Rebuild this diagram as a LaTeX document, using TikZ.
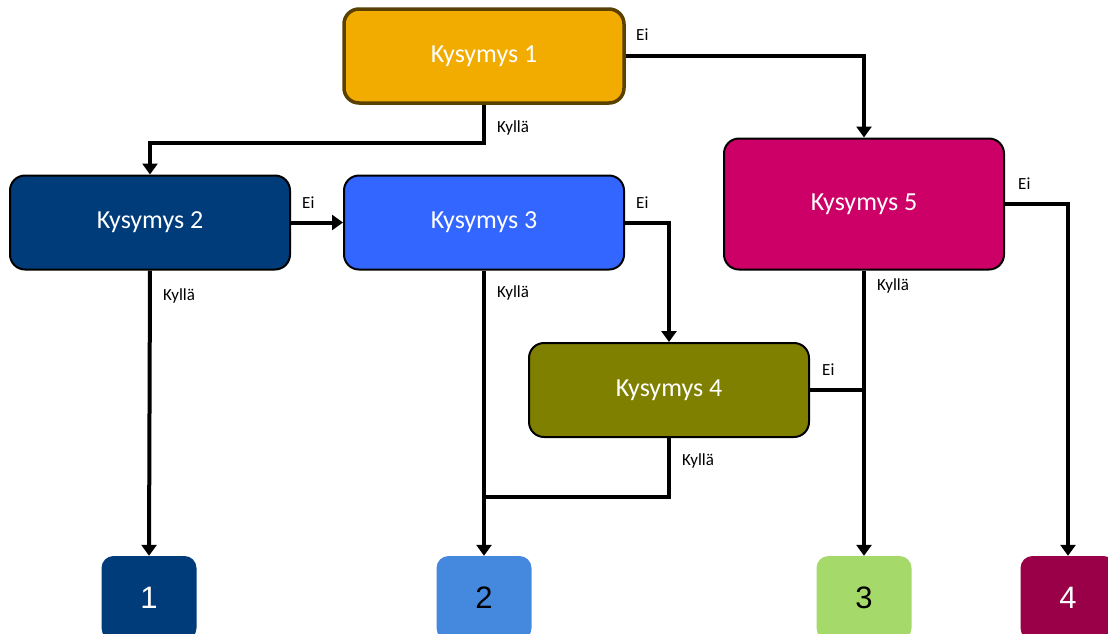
\documentclass[tikz,border=0pt]{standalone}
\usepackage{fontspec}
\setmainfont{Carlito}
\newfontfamily\arialf{Liberation Sans}
\usetikzlibrary{arrows.meta}
\definecolor{cK1}{HTML}{F2AC00}
\definecolor{cK1b}{HTML}{5A4100}
\definecolor{cK2}{HTML}{003B7A}
\definecolor{cK3}{HTML}{3366FF}
\definecolor{cK4}{HTML}{808000}
\definecolor{cK5}{HTML}{CC0066}
\definecolor{cR2}{HTML}{4589DF}
\definecolor{cR3}{HTML}{A5D96A}
\definecolor{cR4}{HTML}{990047}
\begin{document}
\begin{tikzpicture}[x=1pt,y=-1pt,
  qbox/.style={draw=black, line width=2pt, rounded corners=15pt, text=white,
    minimum width=280pt, minimum height=94pt, inner sep=0pt,
    font=\fontsize{26}{30}\selectfont},
  rbox/.style={draw=none, rounded corners=12pt, minimum width=95pt, minimum height=84pt,
    inner sep=0pt, font=\arialf\fontsize{31}{34}\selectfont},
  lbl/.style={font=\fontsize{17}{19}\selectfont, inner sep=0pt, anchor=west},
  con/.style={line width=4pt},
  arr/.style={con, -{Triangle[width=15pt,length=11pt]}}]
\useasboundingbox (0,0) rectangle (1108,633);
\fill[white] (0,0) rectangle (1108,633);
% question boxes
\node[qbox, fill=cK1, draw=cK1b, line width=3.5pt] (k1) at (484,56) {Kysymys 1};
\node[qbox, fill=cK2] (k2) at (150,222.5) {Kysymys 2};
\node[qbox, fill=cK3] (k3) at (484,222.5) {Kysymys 3};
\node[qbox, fill=cK5, minimum height=131pt] (k5) at (864,204) {Kysymys 5};
\node[qbox, fill=cK4] (k4) at (669,390) {Kysymys 4};
% result boxes
\node[rbox, fill=cK2, text=white] (r1) at (149,598) {1};
\node[rbox, fill=cR2, text=black] (r2) at (484,598) {2};
\node[rbox, fill=cR3, text=black] (r3) at (864,598) {3};
\node[rbox, fill=cR4, text=white] (r4) at (1068,598) {4};
% junction coordinates
\coordinate (c1) at (484,143);
\coordinate (j2) at (484,497);
\coordinate (j3) at (864,390);
% connectors
\draw[arr] (k1.south) -- (c1) -| (k2.north);
\draw[arr] (k1.east) -| (k5.north);
\draw[arr] (k2.east) -- (k3.west);
\draw[arr] (k2.south) -- (r1.north);
\draw[arr] (k3.east) -| (k4.north);
\draw[arr] (k3.south) -- (r2.north);
\draw[con] (k4.south) |- (j2);
\draw[con] (k4.east) -- (j3);
\draw[arr] (k5.south) -- (r3.north);
\draw[arr] (k5.east) -| (r4.north);
% labels
\node[lbl] (l1) at (636,35) {Ei};
\node[lbl] (l2) at (497,128) {Kyllä};
\node[lbl] (l3) at (302,203) {Ei};
\node[lbl] (l4) at (163,296) {Kyllä};
\node[lbl] (l5) at (636,203) {Ei};
\node[lbl] (l6) at (497,293) {Kyllä};
\node[lbl] (l7) at (822,370) {Ei};
\node[lbl] (l8) at (682,461) {Kyllä};
\node[lbl] (l9) at (877,286) {Kyllä};
\node[lbl] (l10) at (1018,184) {Ei};
\end{tikzpicture}
\end{document}
